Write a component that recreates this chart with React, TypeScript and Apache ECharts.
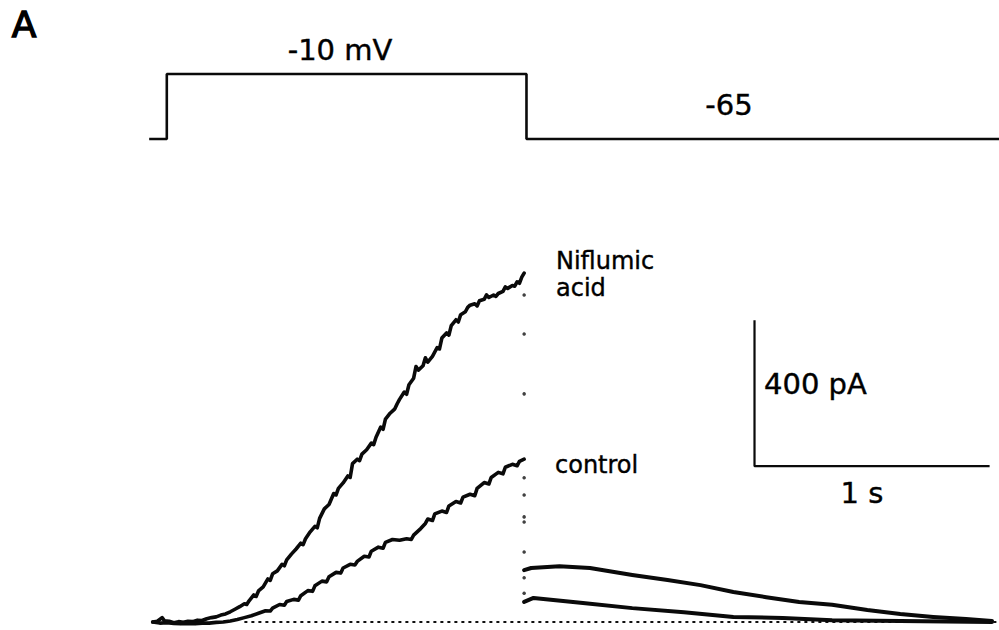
import React, { useEffect, useRef } from "react";
import * as echarts from "echarts";

// Command potential (s, mV)
const voltageSteps: [number, number][] = [
  [-0.075, -65], [0, -65], [0, -10], [1.53, -10], [1.53, -65], [3.54, -65],
];

// Current during the step with niflumic acid (s, pA)
const niflumicStep: [number, number][] = [
  [-0.06, 0], [-0.04, 2], [-0.02, 12], [-0.01, 3], [0.01, 2], [0.03, -2], [0.05, 1], [0.07, -1],
  [0.09, 2], [0.11, 1], [0.13, 5], [0.15, 4], [0.17, 9], [0.19, 12], [0.21, 14], [0.23, 19],
  [0.25, 22], [0.27, 28], [0.29, 35], [0.31, 42], [0.33, 50], [0.34, 48], [0.35, 58], [0.37, 74],
  [0.38, 70], [0.39, 85], [0.41, 96], [0.43, 118], [0.44, 114], [0.45, 132], [0.47, 140],
  [0.49, 158], [0.5, 154], [0.51, 170], [0.53, 186], [0.55, 200], [0.57, 216], [0.58, 212],
  [0.59, 228], [0.61, 247], [0.63, 262], [0.64, 258], [0.65, 284], [0.67, 310], [0.69, 322],
  [0.71, 352], [0.72, 348], [0.73, 366], [0.75, 381], [0.77, 400], [0.78, 396], [0.79, 434],
  [0.81, 446], [0.82, 442], [0.83, 460], [0.85, 472], [0.87, 490], [0.88, 486], [0.89, 506],
  [0.91, 534], [0.92, 528], [0.93, 556], [0.95, 572], [0.97, 584], [0.98, 598], [0.99, 610],
  [1.01, 630], [1.02, 624], [1.03, 650], [1.05, 668], [1.06, 700], [1.07, 690], [1.09, 702],
  [1.1, 724], [1.11, 712], [1.13, 728], [1.15, 752], [1.16, 748], [1.17, 778], [1.19, 792],
  [1.2, 786], [1.21, 812], [1.23, 828], [1.24, 822], [1.25, 842], [1.27, 850], [1.28, 862],
  [1.29, 868], [1.31, 872], [1.32, 866], [1.33, 880], [1.35, 884], [1.36, 896], [1.37, 889],
  [1.39, 896], [1.4, 892], [1.41, 900], [1.43, 906], [1.44, 918], [1.45, 914], [1.47, 922],
  [1.48, 920], [1.49, 932], [1.5, 928], [1.51, 945], [1.52, 956],
];

// Control current during the step (s, pA)
const controlStep: [number, number][] = [
  [-0.06, 0], [-0.03, -3], [0, -2], [0.03, -4], [0.06, -5], [0.09, -4], [0.12, -5], [0.15, -3],
  [0.18, -3], [0.21, -1], [0.24, 0], [0.27, 3], [0.3, 7], [0.33, 12], [0.36, 17], [0.39, 24],
  [0.42, 31], [0.44, 30], [0.45, 38], [0.48, 48], [0.5, 46], [0.51, 56], [0.54, 62], [0.56, 60],
  [0.57, 72], [0.6, 86], [0.62, 84], [0.63, 99], [0.66, 112], [0.68, 110], [0.69, 124],
  [0.72, 136], [0.74, 134], [0.75, 148], [0.78, 158], [0.8, 156], [0.81, 166], [0.84, 180],
  [0.86, 178], [0.87, 194], [0.9, 205], [0.92, 202], [0.93, 218], [0.96, 226], [0.99, 224],
  [1.02, 228], [1.04, 226], [1.05, 238], [1.08, 256], [1.1, 270], [1.11, 282], [1.13, 278],
  [1.14, 296], [1.17, 304], [1.19, 300], [1.2, 318], [1.23, 330], [1.25, 326], [1.26, 342],
  [1.29, 350], [1.31, 346], [1.32, 366], [1.35, 382], [1.37, 378], [1.38, 396], [1.41, 410],
  [1.43, 406], [1.44, 424], [1.47, 432], [1.49, 428], [1.5, 440], [1.52, 446],
];

// Tail currents after repolarisation to -65 mV (s, pA)
const niflumicTail: [number, number][] = [
  [1.52, 142], [1.55, 148], [1.67, 153], [1.8, 148], [1.98, 129], [2.13, 115], [2.27, 101],
  [2.41, 82], [2.55, 68], [2.69, 55], [2.83, 47], [2.98, 33], [3.12, 22], [3.26, 14],
  [3.4, 8], [3.51, 3],
];
const controlTail: [number, number][] = [
  [1.52, 55], [1.56, 66], [1.77, 52], [1.98, 38], [2.2, 27], [2.41, 14], [2.62, 11],
  [2.83, 5], [3.12, 3], [3.51, 0],
];

// Sparse samples of the fast drop at the end of the step (s, pA)
const transientSamples: [number, number][] = [
  [1.52, 896], [1.52, 789], [1.52, 625], [1.52, 395], [1.52, 348], [1.52, 288], [1.52, 274],
  [1.52, 192], [1.52, 121], [1.52, 79],
];

// Zero-current level
const zeroLine: [number, number][] = [[0.33, 0], [3.54, 0]];

// Calibration bars: 400 pA and 1 s
const scaleBar: [number, number][] = [[2.5, 827], [2.5, 427], [3.5, 427]];

const TIME_MIN = -0.08;
const TIME_MAX = 3.54;
const FONT = "'DejaVu Sans', sans-serif";
const INK = "#0a0a0a";

export default function App() {
  const ref = useRef<HTMLDivElement>(null);

  useEffect(() => {
    if (!ref.current) return;
    const chart = echarts.init(ref.current, null, { renderer: "svg" });

    const trace = (data: [number, number][], width = 3.6) => ({
      type: "line",
      xAxisIndex: 1,
      yAxisIndex: 1,
      data,
      showSymbol: false,
      symbol: "none",
      lineStyle: { color: INK, width, join: "round", cap: "round" },
      silent: true,
    });

    const label = (text: string, x: number, y: number, size: number, align = "left") => ({
      type: "text",
      x,
      y,
      style: {
        text,
        font: `${size}px ${FONT}`,
        fill: "#000",
        stroke: "#000",
        lineWidth: 0.4,
        align,
        verticalAlign: "middle",
      },
    });

    chart.setOption({
      animation: false,
      backgroundColor: "#ffffff",
      grid: [
        { left: 148, width: 851, top: 68.1, height: 76.8 },
        { left: 148, width: 851, top: 147.5, height: 481.8 },
      ],
      xAxis: [
        { type: "value", gridIndex: 0, min: TIME_MIN, max: TIME_MAX, show: false },
        { type: "value", gridIndex: 1, min: TIME_MIN, max: TIME_MAX, show: false },
      ],
      yAxis: [
        { type: "value", gridIndex: 0, min: -70, max: -5, show: false },
        { type: "value", gridIndex: 1, min: -20, max: 1300, show: false },
      ],
      series: [
        {
          type: "line",
          xAxisIndex: 0,
          yAxisIndex: 0,
          data: voltageSteps,
          symbol: "none",
          lineStyle: { color: INK, width: 2.6 },
          silent: true,
        },
        {
          type: "line",
          xAxisIndex: 1,
          yAxisIndex: 1,
          data: zeroLine,
          symbol: "none",
          lineStyle: { color: "#111", width: 2, type: [3, 4] },
          silent: true,
        },
        trace(niflumicStep),
        trace(controlStep),
        trace(niflumicTail, 4),
        trace(controlTail, 4),
        {
          type: "scatter",
          xAxisIndex: 1,
          yAxisIndex: 1,
          data: transientSamples,
          symbol: "circle",
          symbolSize: 3.5,
          itemStyle: { color: "#111" },
          silent: true,
        },
        {
          type: "line",
          xAxisIndex: 1,
          yAxisIndex: 1,
          data: scaleBar,
          symbol: "none",
          lineStyle: { color: INK, width: 2.2 },
          silent: true,
        },
      ],
      graphic: [
        {
          type: "text", left: 11, top: 6,
          style: { text: "A", font: `36px ${FONT}`, fill: "#000", stroke: "#000", lineWidth: 1.4 },
        },
        label("-10 mV", 340, 50, 29, "center"),
        label("-65", 729, 105, 29, "center"),
        label("Niflumic", 556, 261, 24),
        label("acid", 556, 288, 24),
        label("control", 555, 465, 24),
        label("400 pA", 764, 384, 29),
        label("1 s", 862, 493, 29, "center"),
      ],
    });

    return () => chart.dispose();
  }, []);

  return (
    <div
      ref={ref}
      style={{ position: "fixed", left: 0, top: 0, width: 999, height: 630, background: "#fff" }}
    />
  );
}
